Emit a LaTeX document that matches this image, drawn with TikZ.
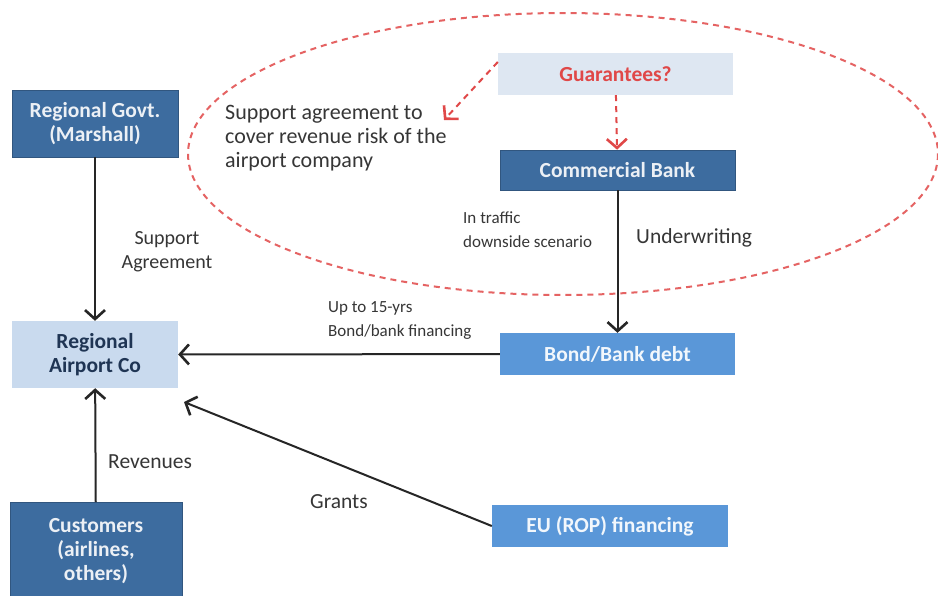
\documentclass[tikz,border=0pt]{standalone}
\usepackage{fontspec}
\setmainfont{Carlito}
\usetikzlibrary{arrows.meta,calc,shapes.geometric}
\definecolor{darkbox}{HTML}{3D6C9F}
\definecolor{midbox}{HTML}{5A97D8}
\definecolor{lightbox}{HTML}{C9DAEE}
\definecolor{paleblue}{HTML}{DEE7F2}
\definecolor{navytext}{HTML}{1F3554}
\definecolor{labeltext}{HTML}{363636}
\definecolor{guardred}{HTML}{E04848}
\begin{document}
\begin{tikzpicture}[x=1pt,y=-1pt,
  boxbase/.style={rectangle,inner sep=0pt,align=center,
    font=\fontsize{21.5}{24}\selectfont\bfseries},
  darkstep/.style={boxbase,fill=darkbox,draw=darkbox!80!black,line width=0.6pt,text=white!90!darkbox},
  midstep/.style={boxbase,fill=midbox,text=white!92!midbox},
  lightstep/.style={boxbase,fill=lightbox,text=navytext},
  guarstep/.style={boxbase,fill=paleblue,text=guardred},
  lbl/.style={text=labeltext,align=left,inner sep=0pt,
    font=\fontsize{21.5}{24}\selectfont},
  smalllbl/.style={lbl,font=\fontsize{17}{24}\selectfont},
  flow/.style={draw=black!85,line width=2pt,
    -{Straight Barb[length=9pt,width=20pt,line width=2.6pt]}},
  redflow/.style={draw=guardred,line width=2pt,dash pattern=on 6pt off 5pt,
    -{Straight Barb[length=9pt,width=20pt,line width=2.6pt]}},
]
\useasboundingbox (0,0) rectangle (938,595);
\fill[white] (0,0) rectangle (938,595);

% dashed ring around the guarantee arrangement
\draw[guardred!85,line width=2pt,dash pattern=on 6pt off 5pt]
  (563,154) ellipse [x radius=375, y radius=141];

% boxes
\node[darkstep,minimum width=166pt,minimum height=67pt] (gov) at (95,123.5)
  {Regional Govt.\\(Marshall)};
\node[guarstep,minimum width=235pt,minimum height=42pt] (guar) at (615.5,74)
  {Guarantees?};
\node[darkstep,minimum width=235pt,minimum height=40pt] (bank) at (617.5,170)
  {Commercial Bank};
\node[lightstep,minimum width=166pt,minimum height=67pt] (air) at (95,354.5)
  {Regional\\Airport Co};
\node[midstep,minimum width=235pt,minimum height=42pt] (bond) at (617.5,354)
  {Bond/Bank debt};
\node[midstep,minimum width=236pt,minimum height=42pt] (eu) at (610,526)
  {EU (ROP) financing};
\node[darkstep,minimum width=172pt,minimum height=97pt] (cust) at (96,551)
  {Customers\\(airlines,\\others)};

% labels
\node[lbl,font=\fontsize{22}{24}\selectfont,anchor=west] (supp) at (225,138)
  {Support agreement to\\cover revenue risk of the\\airport company};
\node[lbl,font=\fontsize{20}{24}\selectfont,align=center] (suppag) at (167,252) {Support\\Agreement};
\node[smalllbl,anchor=west] (traffic) at (463,230) {In traffic\\downside scenario};
\node[lbl,anchor=west] (under) at (636,238) {Underwriting};
\node[smalllbl,anchor=west] (upto) at (328,320) {Up to 15-yrs\\Bond/bank financing};
\node[lbl,anchor=west] (rev) at (108,462) {Revenues};
\node[lbl,anchor=west] (grants) at (310,502) {Grants};

% connectors
\coordinate (suppend) at (444,120);
\coordinate (airse) at (184,402);
\draw[flow] (gov) -- (air);
\draw[flow] (cust) -- (air);
\draw[flow] (bank) -- (bond);
\draw[flow] (bond) -- (air);
\draw[flow] (eu.west) -- (airse);
\draw[redflow] (guar) -- (bank);
\draw[redflow] ([yshift=12pt]guar.west) -- (suppend);
\end{tikzpicture}
\end{document}
